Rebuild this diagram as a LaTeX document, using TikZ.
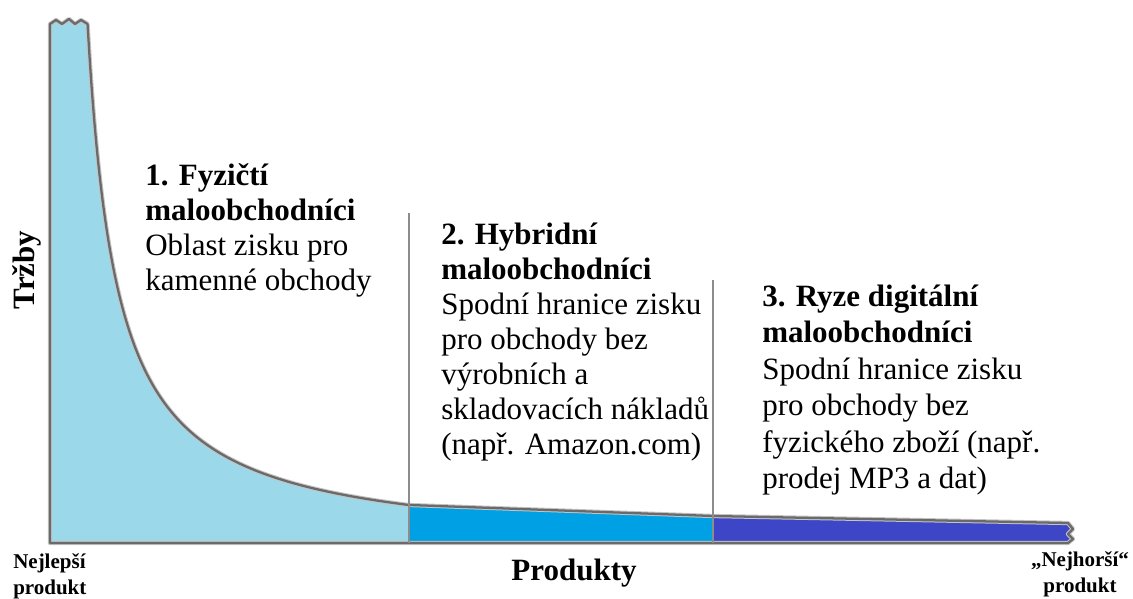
\documentclass[tikz,border=0pt]{standalone}
\usepackage{fontspec}
\setmainfont{Liberation Serif}
\definecolor{physfill}{HTML}{9BD8E9}
\definecolor{hybfill}{HTML}{00A0E4}
\definecolor{digfill}{HTML}{3E46C8}
\definecolor{edge}{HTML}{6A6A6A}
\definecolor{halo}{HTML}{C4C4C4}
\definecolor{sep}{HTML}{8C8C8C}
\tikzset{
  outline/.style={draw=edge, line width=1.7pt, line join=round},
  outlinehalo/.style={draw=halo, line width=3.2pt, line join=round},
  divider/.style={draw=sep, line width=1.1pt},
  block/.style={anchor=north west, inner sep=0pt, align=left,
    font=\fontsize{23.25}{26.25}\selectfont},
  wideblock/.style={block, font=\fontsize{23.25}{27.4}\selectfont},
  axislabel/.style={inner sep=0pt, font=\fontsize{23.25}{26}\selectfont\bfseries},
  endlabel/.style={inner sep=0pt, align=center,
    font=\fontsize{15.75}{19.5}\selectfont\bfseries},
  % sales h = 15617/(x-57.85) - 6.5 above the base line, sampled on a log scale of h
  tail/.style={smooth, domain=6.2519:3.6376, samples=160, variable=\t},
}
\newcommand{\firstline}{\rule{0pt}{24pt}}
\newcommand{\smallfirst}{\rule{0pt}{16.5pt}}
\begin{document}
\begin{tikzpicture}[x=0.75pt, y=-0.75pt]
\useasboundingbox (0,0) rectangle (1133,599);

% key points of the chart
\coordinate (origin) at (50,543);
\coordinate (topleft) at (50,24);
\coordinate (topright) at (87.6,24);
\coordinate (cutA) at (409,505);
\coordinate (baseA) at (409,543);
\coordinate (cutB) at (713,516);
\coordinate (baseB) at (713,543);
\coordinate (tailend) at (1068,523);
\coordinate (tailbase) at (1068,543);
\coordinate (divAtop) at (409,213);
\coordinate (divBtop) at (713,280);

% zone 1: physical retailers
\path[fill=physfill] (origin) -- (topleft) -- (56,20) -- (62,24) -- (69,19) -- (75,24) -- (81,20) -- (topright)
  -- plot[tail] ({57.85+15617/(exp(\t)+6.5)}, {543-exp(\t)})
  -- (baseA) -- cycle;
% zone 2: hybrid retailers
\path[fill=hybfill] (baseA) -- (cutA) -- (cutB) -- (baseB) -- cycle;
% zone 3: purely digital retailers
\path[fill=digfill] (baseB) -- (cutB) -- (tailend) -- (1073,529) -- (1068,534) -- (1073,539) -- (tailbase) -- cycle;

% outline of the whole area under the curve
\foreach \look in {outlinehalo, outline}{
\path[\look] (origin) -- (topleft) -- (56,20) -- (62,24) -- (69,19) -- (75,24) -- (81,20) -- (topright)
  -- plot[tail] ({57.85+15617/(exp(\t)+6.5)}, {543-exp(\t)})
  -- (cutB) -- (tailend) -- (1073,529) -- (1068,534) -- (1073,539) -- (tailbase) -- cycle;
}

% zone dividers
\draw[divider] (divAtop) -- (baseA);
\draw[divider] (divBtop) -- (baseB);

% zone descriptions
\node[block] (zone1) at (145,153) {\firstline\textbf{1. Fyzičtí}\\\textbf{maloobchodníci}\\Oblast zisku pro\\kamenné obchody};
\node[block] (zone2) at (441,212) {\firstline\textbf{2. Hybridní}\\\textbf{maloobchodníci}\\Spodní hranice zisku\\pro obchody bez\\výrobních a\\skladovacích nákladů\\(např. Amazon.com)};
\node[wideblock] (zone3) at (762,274) {\firstline\textbf{3. Ryze digitální}\\\textbf{maloobchodníci}\\Spodní hranice zisku\\pro obchody bez\\fyzického zboží (např.\\prodej MP3 a dat)};

% axis labels
\node[axislabel, rotate=90] (ylabel) at (27,270) {Tržby};
\node[axislabel, anchor=base] (xlabel) at (574,580) {Produkty};
\node[endlabel, anchor=north west, align=left] (best) at (13,546) {\smallfirst Nejlepší\\produkt};
\node[endlabel, anchor=north] (worst) at (1080,544) {\smallfirst„Nejhorší“\\produkt};
\end{tikzpicture}
\end{document}
